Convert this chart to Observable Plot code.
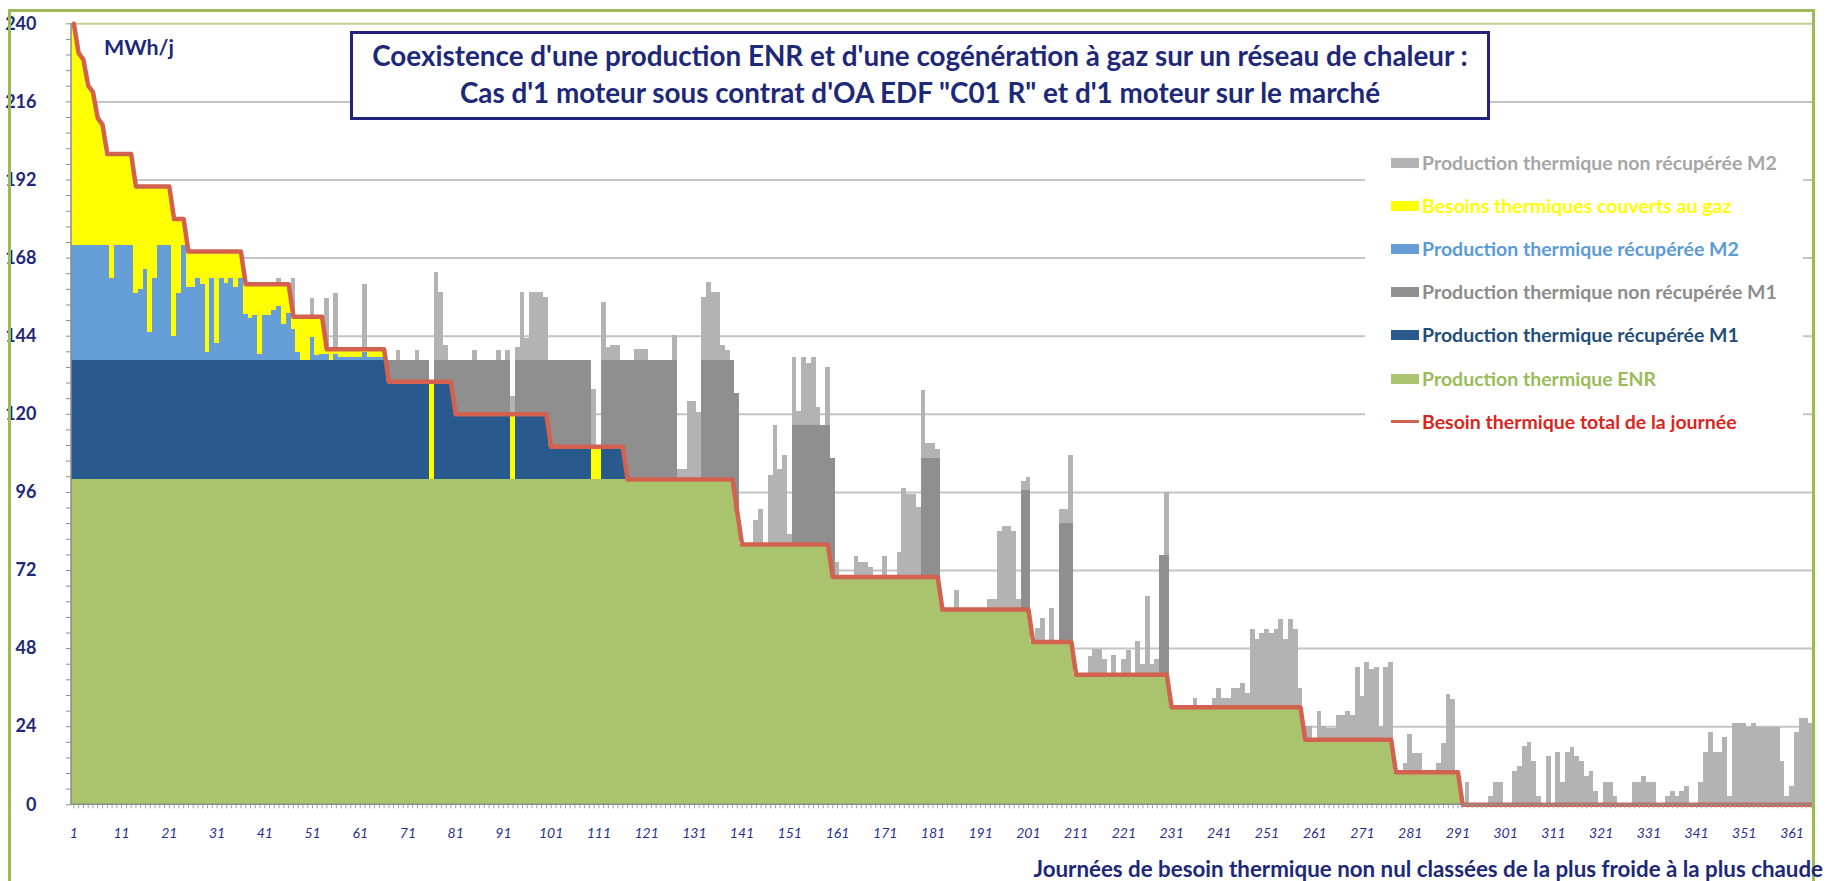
<!DOCTYPE html>
<html lang="fr">
<head>
<meta charset="utf-8">
<title>Coexistence ENR et cogénération</title>
<script src="https://cdn.jsdelivr.net/npm/d3@7"></script>
<script src="https://cdn.jsdelivr.net/npm/@observablehq/plot@0.6"></script>
<style>
  html,body{margin:0;padding:0;background:#fff;}
  #wrap{position:relative;width:1832px;height:881px;overflow:hidden;font-family:Lato,"Open Sans",sans-serif;}
  #wrap svg{position:absolute;left:0;top:0;}
  .abs{position:absolute;white-space:nowrap;}
  #frame{left:8px;top:9px;width:1807px;height:1000px;border:3px solid #9BBB59;box-sizing:border-box;}
  #titlebox{left:350px;top:31px;width:1140px;height:89px;border:3px solid #23237F;background:#fff;box-sizing:border-box;}
  .tline{font-weight:700;color:#1E2878;transform:translate(-50%,-50%);line-height:1;}
  #unit{font-weight:700;color:#1E2878;transform:translateY(-50%);line-height:1;}
  #legendbox{left:1365px;top:135px;width:438px;height:305px;background:#fff;}
  .lgtext{font-weight:700;transform:translateY(-50%);line-height:1;}
  #xtitle{font-weight:700;color:#1E2878;transform:translate(-100%,-50%);line-height:1;}
</style>
</head>
<body>
<div id="wrap"></div>
<script>
// ---------- DATA ----------
const days = d3.range(1, 366);
const yTicks = [0, 24, 48, 72, 96, 120, 144, 168, 192, 216, 240];
const yMinorTicks = d3.range(0, 51).map(i => i * 4.8);
const xTickLabels = d3.range(1, 366, 10);

// run-length lists: [value, number of consecutive days]
const besoinRuns = [[240,1],[231,1],[229,1],[221,1],[219,1],[211,1],[209,1],[200,6],[190,8],[180,3],[170,12],[160,10],[150,7],[140,13],[130,14],[120,20],[110,16],[100,23],[90,1],[80,19],[70,23],[60,19],[50,9],[40,20],[30,28],[20,19],[10,14],[0,74]];
const enrRuns = [[100,139],[90,1],[80,19],[70,23],[60,19],[50,9],[40,20],[30,28],[20,19],[10,14],[0,74]];
const recM1Runs = [[36.5,66],[30,9],[0,1],[30,4],[20,12],[0,1],[20,7],[10,9],[0,2],[10,5],[0,249]];
const recM2Runs = [[35.5,8],[25.1,1],[35.5,4],[20.5,1],[22,1],[28.1,1],[8.7,1],[25.1,1],[35.5,3],[7.4,1],[20.5,1],[35.5,1],[22.5,2],[25.1,1],[23.5,1],[2.5,1],[25.1,1],[5.3,1],[25.1,1],[23.7,1],[25.1,1],[22.5,1],[25.1,1],[14.3,1],[12.8,1],[13.8,1],[1.9,1],[13.8,2],[15.5,1],[16.5,1],[11.1,1],[14.5,1],[9.5,1],[2.5,1],[0,2],[7.2,1],[1.5,1],[1.9,2],[0,1],[1.9,1],[1,5],[2.5,1],[1,4],[0,299]];
const gazRuns = [[68,1],[59,1],[57,1],[49,1],[47,1],[39,1],[37,1],[28,1],[38.4,1],[28,4],[33,1],[31.5,1],[25.4,1],[44.8,1],[28.4,1],[18,3],[36.1,1],[23,1],[8,1],[11,2],[8.4,1],[10,1],[31,1],[8.4,1],[28.2,1],[8.4,1],[9.8,1],[8.4,1],[11,1],[8.4,1],[9.2,1],[10.7,1],[9.7,1],[21.6,1],[9.7,2],[8,1],[7,1],[12.4,1],[9,1],[4,1],[11,1],[13.5,2],[6.3,1],[12,1],[11.6,1],[1.6,1],[3.5,1],[1.6,1],[2.5,5],[1,1],[2.5,4],[0,9],[30,1],[0,16],[20,1],[0,16],[10,2],[0,254]];
const nonRecM1Runs = [[0,66],[6.5,9],[0,1],[6.5,4],[16.5,12],[0,1],[16.5,7],[26.5,9],[0,2],[26.5,5],[36.5,11],[0,5],[36.5,8],[0,11],[36.5,9],[0,18],[36.5,4],[0,17],[36.5,2],[0,6],[36.5,3],[0,18],[36.5,2],[0,135]];
// sparse list: [day, value] (all other days are 0)
const nonRecM2Pairs = [[44,1.6],[47,11.6],[51,5.5],[54,15.5],[56,17],[62,20],[69,3],[73,3],[77,27],[78,21],[79,4.6],[85,3],[90,3],[92,3],[93,5.6],[94,4],[95,21],[96,6.8],[97,21],[98,21],[99,21],[100,19.5],[110,17.7],[112,18],[113,4],[114,4.5],[115,4.5],[119,3.5],[120,3.5],[121,3.5],[127,7.7],[128,3],[129,3],[130,24],[131,24],[132,20.6],[133,19.5],[134,24],[135,21],[136,21],[137,4.6],[138,3],[144,7.5],[145,10.8],[147,21.3],[148,36.5],[149,23],[150,27.4],[151,3],[152,21],[153,4.4],[154,21],[155,19],[156,21],[157,5.6],[159,18],[161,4.5],[165,6.2],[166,4.5],[167,4.5],[168,2.8],[171,6.2],[174,7.6],[175,27.1],[176,25.4],[177,25.4],[178,21.3],[179,20.8],[180,4.4],[181,4.4],[182,2.8],[186,5.8],[193,3],[194,3],[195,24],[196,25.6],[197,25.6],[198,24],[199,3],[200,2.8],[201,4.1],[203,4.3],[204,7.4],[206,10.4],[208,4.1],[209,4.1],[210,20.8],[214,5.5],[215,7.6],[216,7.6],[217,4.5],[219,6],[221,4.5],[222,7.4],[224,10.2],[225,3],[226,24],[227,3],[228,4.5],[230,19.6],[236,2.7],[240,2.7],[241,5.8],[242,2.7],[243,2.7],[244,5.8],[245,5.8],[246,7.4],[247,4.3],[248,23.8],[249,20.9],[250,22.6],[251,23.8],[252,22.6],[253,23.8],[254,26.9],[255,20.9],[256,26.9],[257,23.8],[258,5.8],[259,4],[260,4],[262,8.6],[263,4],[264,3.5],[265,3.5],[266,7.3],[267,7.3],[268,8.6],[269,7.3],[270,22.3],[271,13.2],[272,23.7],[273,21.5],[274,22.3],[275,4],[276,22.3],[277,23.7],[280,2.7],[281,11.7],[282,5.8],[283,5.8],[287,2.7],[288,8.9],[289,23.8],[290,22.4],[293,7],[298,2.6],[299,7],[300,7],[303,10.1],[304,11.7],[305,17.8],[306,19.1],[307,13.2],[308,2.6],[310,14.7],[312,16.2],[313,7],[314,16.2],[315,17.6],[316,14.7],[317,13.2],[318,8.6],[319,10.1],[320,4],[322,7],[323,7],[324,2.6],[328,7],[329,7],[330,8.6],[331,7],[332,7],[335,2.6],[336,4],[337,2.6],[338,4],[339,5.5],[342,7],[343,16.2],[344,22.1],[345,16.2],[346,16.2],[347,20.7],[348,2.6],[349,25],[350,25],[351,25],[352,23.8],[353,25],[354,23.8],[355,23.8],[356,23.8],[357,23.8],[358,23.8],[359,13.2],[360,2.6],[361,5.7],[362,22.1],[363,26.6],[364,26.6],[365,25]];

const seriesNames = [
  "Production thermique ENR",
  "Production thermique récupérée M1",
  "Production thermique récupérée M2",
  "Besoins thermiques couverts au gaz",
  "Production thermique non récupérée M1",
  "Production thermique non récupérée M2"
];
const seriesColors = ["#A9C46C", "#285A8D", "#669ED8", "#FFFF00", "#8F8F8F", "#B3B3B3"];
const besoinName = "Besoin thermique total de la journée";
const titleLines = [
  "Coexistence d'une production ENR et d'une cogénération à gaz sur un réseau de chaleur :",
  "Cas d'1 moteur sous contrat d'OA EDF \"C01 R\" et d'1 moteur sur le marché"
];
const unitLabel = "MWh/j";
const xTitle = "Journées de besoin thermique non nul classées de la plus froide à la plus chaude";

// ---------- BUILD ----------
function expand(runs) { const out = []; for (const [v, n] of runs) for (let i = 0; i < n; i++) out.push(v); return out; }
const besoin = expand(besoinRuns);
const enr = expand(enrRuns);
const recM1 = expand(recM1Runs);
const recM2 = expand(recM2Runs);
const gaz = expand(gazRuns);
const nonRecM1 = expand(nonRecM1Runs);
const nonRecM2 = days.map(() => 0);
for (const [d, v] of nonRecM2Pairs) nonRecM2[d - 1] = v;
const seriesValues = [enr, recM1, recM2, gaz, nonRecM1, nonRecM2];

const rows = seriesNames.flatMap((name, s) => days.map((day, i) => ({day, series: name, value: seriesValues[s][i]})));
const besoinRows = days.map((day, i) => ({day, value: besoin[i]}));

const NAVY = "#1E2878";
const chart = Plot.plot({
  width: 1832, height: 881,
  marginLeft: 71, marginRight: 19, marginTop: 23.3, marginBottom: 76.7,
  style: {background: "transparent", fontFamily: "Lato, 'Open Sans', sans-serif", overflow: "visible"},
  x: {type: "band", domain: days, padding: 0, axis: null},
  y: {domain: [0, 240], axis: null},
  color: {domain: seriesNames, range: seriesColors},
  marks: [
    Plot.ruleY(yTicks.filter(v => v > 0 && v < 240), {stroke: "#C4C4C4", strokeWidth: 2}),
    Plot.ruleY([240], {stroke: "#BDCF92", strokeWidth: 2}),
    Plot.barY(rows, {x: "day", y: "value", fill: "series", order: seriesNames, shapeRendering: "crispEdges"}),
    Plot.lineY(besoinRows, {x: "day", y: "value", stroke: "#D3614F", strokeWidth: 4.5, strokeLinejoin: "round"}),
    Plot.axisY(yMinorTicks, {tickSize: 5, tickFormat: () => "", stroke: "#8C8C8C", label: null}),
    Plot.axisY(yTicks, {tickSize: 0, tickPadding: 35, fontSize: 18, fontWeight: "bold", fill: NAVY, label: null}),
    Plot.axisX(days, {tickSize: 4, tickFormat: () => "", stroke: "#A0A0A0", label: null}),
    Plot.axisX(xTickLabels, {tickSize: 0, tickPadding: 23, fontSize: 14, fontStyle: "italic", fill: "#2A2F8F", label: null})
  ]
});

const wrap = document.getElementById("wrap");
wrap.appendChild(chart);

// axis lines drawn with the chart's own scales
const xs = chart.scale("x"), ys = chart.scale("y");
const xL = xs.range[0], xR = xs.range[1];
const y0 = ys.apply(0), yTop = ys.apply(240);
const svg = d3.select(chart);
svg.append("line").attr("x1", xL).attr("x2", xL).attr("y1", yTop).attr("y2", y0).attr("stroke", "#8C8C8C").attr("stroke-width", 1.5);
svg.append("line").attr("x1", xL).attr("x2", xR).attr("y1", y0).attr("y2", y0).attr("stroke", "#8C8C8C").attr("stroke-width", 1.5);

// ---------- OVERLAYS ----------
function add(id, cls, html) { const d = document.createElement("div"); if (id) d.id = id; d.className = "abs " + (cls || ""); if (html != null) d.textContent = html; wrap.appendChild(d); return d; }
function fit(el, target) { el.style.fontSize = "20px"; const w = el.getBoundingClientRect().width; const fs = 20 * target / w; el.style.fontSize = fs + "px"; return fs; }

add("frame");
const tb = add("titlebox");
const t1 = add(null, "tline", titleLines[0]); t1.style.left = "920px"; t1.style.top = "56px";
const t2 = add(null, "tline", titleLines[1]); t2.style.left = "920px"; t2.style.top = "93px";
const tfs = fit(t1, 1096); t2.style.fontSize = tfs + "px";

const unit = add("unit", "", unitLabel); unit.style.left = "104px"; unit.style.top = "48px"; fit(unit, 70);

add("legendbox");
const legendItems = [
  {name: seriesNames[5], sw: seriesColors[5], tc: "#A6A6A6"},
  {name: seriesNames[3], sw: seriesColors[3], tc: "#FFFF00"},
  {name: seriesNames[2], sw: seriesColors[2], tc: "#5B9BD5"},
  {name: seriesNames[4], sw: seriesColors[4], tc: "#8C8C8C"},
  {name: seriesNames[1], sw: seriesColors[1], tc: "#1F4E79"},
  {name: seriesNames[0], sw: seriesColors[0], tc: "#9BBB59"},
  {name: besoinName, sw: "#D3614F", tc: "#D9261C", line: true}
];
let lfs = null;
legendItems.forEach((it, i) => {
  const cy = 162.7 + i * 43.17;
  const s = add(null, "");
  s.style.left = "1391px"; s.style.width = "28px";
  s.style.height = it.line ? "3.5px" : "10px";
  s.style.top = (cy - (it.line ? 1.75 : 5)) + "px";
  s.style.background = it.sw;
  const t = add(null, "lgtext", it.name);
  t.style.left = "1422px"; t.style.top = cy + "px"; t.style.color = it.tc;
  if (i === 0) lfs = fit(t, 355); else t.style.fontSize = lfs + "px";
});

const xt = add("xtitle", "", xTitle); xt.style.left = "1823px"; xt.style.top = "869px"; fit(xt, 790);
</script>
</body>
</html>
